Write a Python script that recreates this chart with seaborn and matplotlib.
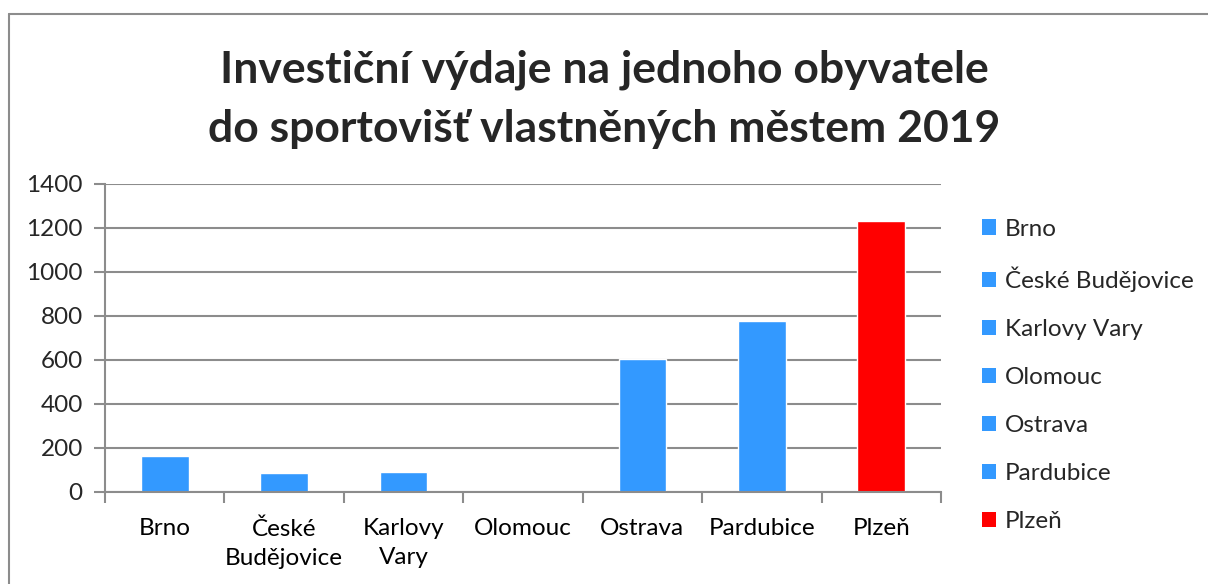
import numpy as np
import pandas as pd
import seaborn as sns
import matplotlib.pyplot as plt
from matplotlib.lines import Line2D
from matplotlib.patches import Patch

# Data
cities = ['Brno', 'České Budějovice', 'Karlovy Vary', 'Olomouc', 'Ostrava', 'Pardubice', 'Plzeň']
tick_labels = ['Brno', 'České\nBudějovice', 'Karlovy\nVary', 'Olomouc', 'Ostrava', 'Pardubice', 'Plzeň']
values = [164, 85, 92, 0, 603, 779, 1232]
colors = ['#3399FF', '#3399FF', '#3399FF', '#3399FF', '#3399FF', '#3399FF', '#FF0000']

df = pd.DataFrame({'city': cities, 'value': values})

sns.set_theme(style='white')
plt.rcParams['font.family'] = ['Lato', 'DejaVu Sans']

fig = plt.figure(figsize=(12.08, 5.84), dpi=100)
ax = fig.add_axes([105 / 1208, 1 - 492 / 584, 836 / 1208, 308 / 584])

sns.barplot(data=df, x='city', y='value', hue='city', palette=dict(zip(cities, colors)),
            width=0.4, legend=False, saturation=1, ax=ax)

grid_c = '#8c8c8c'
ax.set_xlim(-0.5, len(cities) - 0.5)
ax.set_ylim(0, 1400)
ax.set_yticks(range(0, 1401, 200))
ax.yaxis.grid(True, color=grid_c, linewidth=1.5)
ax.set_axisbelow(True)
ax.set_xlabel('')
ax.set_ylabel('')

for side in ['top', 'right']:
    ax.spines[side].set_visible(False)
for side in ['left', 'bottom']:
    ax.spines[side].set_color(grid_c)
    ax.spines[side].set_linewidth(1.5)

ax.set_xticks(range(len(cities)))
ax.set_xticklabels(tick_labels, fontsize=17.5, color='black', linespacing=1.45)
ax.tick_params(axis='x', which='major', length=0, pad=19)
ax.set_xticks(np.arange(-0.5, len(cities), 1.0), minor=True)
ax.tick_params(axis='x', which='minor', bottom=True, length=8, width=1.5, color=grid_c)
ax.tick_params(axis='y', left=True, length=8, width=1.5, color=grid_c, labelsize=17.5, pad=8)

# Legend
handles = [Patch(facecolor=c, edgecolor='none') for c in colors]
fig.legend(handles, cities, loc='upper left', bbox_to_anchor=(972 / 1208, 1 - 209 / 584),
           frameon=False, fontsize=17.5, handlelength=0.6, handleheight=0.6,
           handletextpad=0.35, labelspacing=1.11, borderaxespad=0)

fig.suptitle('Investiční výdaje na jednoho obyvatele\ndo sportovišť vlastněných městem 2019',
             x=0.5, y=1 - 49 / 584, fontsize=32, fontweight='bold', va='top', linespacing=1.6)

# Outer chart border (left and top edges visible)
fig.add_artist(Line2D([8.5 / 1208, 8.5 / 1208], [0, 1 - 13.5 / 584], color=grid_c, linewidth=1.5,
                      transform=fig.transFigure))
fig.add_artist(Line2D([8.5 / 1208, 1], [1 - 13.5 / 584, 1 - 13.5 / 584], color=grid_c, linewidth=1.5,
                      transform=fig.transFigure))

fig.savefig('out.png', dpi=100)
